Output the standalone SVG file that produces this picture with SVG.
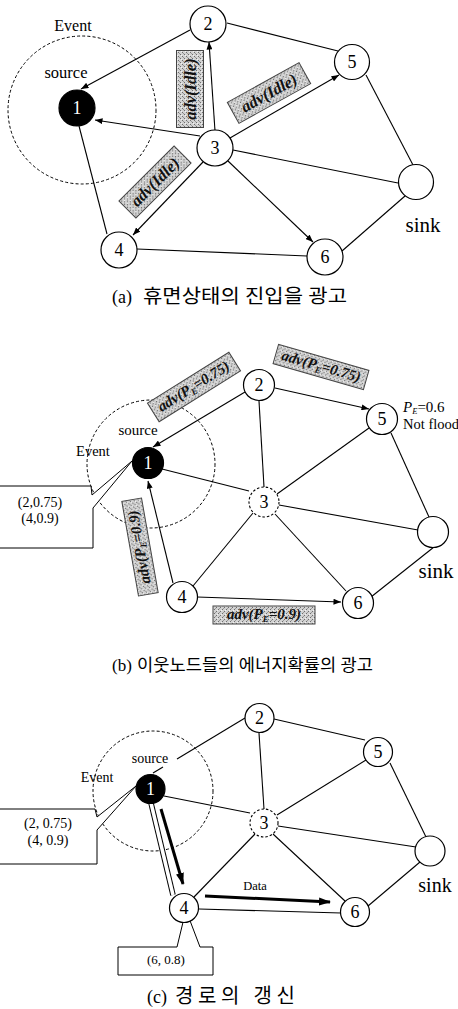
<svg xmlns="http://www.w3.org/2000/svg" width="458" height="1009" viewBox="0 0 458 1009">
<defs>
<style>
.e{stroke:#000;stroke-width:1.1;fill:none}
.ea{stroke:#000;stroke-width:1.1;fill:none;marker-end:url(#ah)}
.thick{stroke:#000;stroke-width:3;fill:none;marker-end:url(#aht)}
.nd{fill:#fff;stroke:#000;stroke-width:1.2}
.src{fill:#000;stroke:#000;stroke-width:1.2}
.dn{fill:#fff;stroke:#000;stroke-width:1.1;stroke-dasharray:2.5 2}
.ev{fill:none;stroke:#000;stroke-width:1;stroke-dasharray:3 2.2}
.num{font-family:"Liberation Serif","Times New Roman",serif;font-size:18px;text-anchor:middle;fill:#000}
.numw{fill:#fff}
.lbl{font-family:"Liberation Serif","Times New Roman",serif;fill:#000}
.mid{text-anchor:middle}
.box{fill:url(#dots);stroke:#444;stroke-width:1}
.bt{font-family:"Liberation Serif","Times New Roman",serif;font-weight:bold;font-style:italic;text-anchor:middle;fill:#111}
.call{fill:#fff;stroke:#000;stroke-width:1}
.cap{font-family:"Liberation Serif","Noto Sans CJK KR",serif;fill:#000}
</style>
<pattern id="dots" width="4" height="4" patternUnits="userSpaceOnUse">
<rect width="4" height="4" fill="#d2d2d2"/>
<rect x="0" y="0" width="1" height="1" fill="#6e6e6e"/>
<rect x="2" y="2" width="1" height="1" fill="#6e6e6e"/>
<rect x="3" y="1" width="1" height="1" fill="#9a9a9a"/>
<rect x="1" y="3" width="1" height="1" fill="#f2f2f2"/>
</pattern>
<marker id="ah" viewBox="0 0 10 8" refX="10" refY="4" markerWidth="8" markerHeight="6" markerUnits="userSpaceOnUse" orient="auto">
<path d="M0,0 L10,4 L0,8 z" fill="#000"/>
</marker>
<marker id="aht" viewBox="0 0 12 8" refX="11" refY="4" markerWidth="12" markerHeight="9" markerUnits="userSpaceOnUse" orient="auto">
<path d="M0,0 L12,4 L0,8 z" fill="#000"/>
</marker>
</defs>
<rect width="458" height="1009" fill="#fff"/>

<!-- (a) idle-state advertisement -->
<g id="panel-a">
<circle class="ev" cx="82" cy="110" r="74"/>
<g id="a-connectors">
<line class="ea" x1="190" y1="30" x2="81" y2="89"/>
<line class="e" x1="227" y1="23" x2="338" y2="51"/>
<line class="ea" x1="215" y1="131" x2="209" y2="42"/>
<line class="ea" x1="230" y1="138" x2="339" y2="75"/>
<line class="ea" x1="200" y1="136" x2="95" y2="120"/>
<line class="ea" x1="203" y1="162" x2="133" y2="235"/>
<line class="ea" x1="228" y1="161" x2="313" y2="242"/>
<line class="e" x1="233" y1="150" x2="398" y2="183"/>
<line class="e" x1="366" y1="75" x2="413" y2="165"/>
<line class="e" x1="79" y1="126" x2="107" y2="234"/>
<line class="e" x1="137" y1="249" x2="307" y2="256"/>
<line class="e" x1="342" y1="251" x2="405" y2="196"/>
<g transform="translate(190,89) rotate(-90)">
<rect class="box" x="-38.5" y="-13.5" width="77" height="27"/>
<text class="bt" font-size="16.5" y="5.5">adv(Idle)</text>
</g>
<g transform="translate(269,93) rotate(-29)">
<rect class="box" x="-41" y="-12" width="82" height="24"/>
<text class="bt" font-size="16.5" y="5.5">adv(Idle)</text>
</g>
<g transform="translate(155,182) rotate(-45)">
<rect class="box" x="-39" y="-12" width="78" height="24"/>
<text class="bt" font-size="16.5" y="5.5">adv(Idle)</text>
</g>
</g>
<g id="a-n1"><circle class="src" cx="77" cy="108" r="18"/><text class="num numw" x="77" y="114">1</text></g>
<g id="a-n2"><circle class="nd" cx="208" cy="24" r="18"/><text class="num" x="208" y="30">2</text></g>
<g id="a-n3"><circle class="nd" cx="215" cy="148" r="18"/><text class="num" x="215" y="154">3</text></g>
<g id="a-n4"><circle class="nd" cx="119" cy="250" r="18"/><text class="num" x="119" y="256">4</text></g>
<g id="a-n5"><circle class="nd" cx="352" cy="62" r="17.5"/><text class="num" x="352" y="68">5</text></g>
<g id="a-n6"><circle class="nd" cx="325" cy="257" r="18"/><text class="num" x="325" y="263">6</text></g>
<g id="a-sink"><circle class="nd" cx="416" cy="182" r="17.5"/></g>
<text class="lbl mid" x="73" y="31" font-size="16">Event</text>
<text class="lbl mid" x="66" y="78" font-size="16.5">source</text>
<text class="lbl mid" x="423" y="232" font-size="21">sink</text>
<text class="cap" x="112" y="303" font-size="18">(a)</text>
<text class="cap" x="143" y="303" font-size="19.5" textLength="204" lengthAdjust="spacingAndGlyphs">휴면상태의 진입을 광고</text>
</g>

<!-- (b) neighbours advertise energy probability -->
<g id="panel-b">
<circle class="ev" cx="151" cy="464" r="64"/>
<g id="b-connectors">
<line class="ea" x1="245" y1="392" x2="153" y2="447"/>
<line class="ea" x1="275" y1="388" x2="369" y2="409"/>
<line class="e" x1="259" y1="401" x2="264" y2="487"/>
<line class="e" x1="162" y1="469" x2="249" y2="491"/>
<line class="e" x1="277" y1="494" x2="369" y2="428"/>
<line class="e" x1="391" y1="433" x2="429" y2="517"/>
<line class="e" x1="279" y1="505" x2="418" y2="530"/>
<line class="e" x1="253" y1="513" x2="193" y2="586"/>
<line class="e" x1="275" y1="514" x2="346" y2="591"/>
<line class="ea" x1="173" y1="583" x2="148" y2="481"/>
<line class="ea" x1="197" y1="597" x2="341" y2="602"/>
<line class="e" x1="371" y1="597" x2="434" y2="547"/>
<g transform="translate(194,387) rotate(-32)">
<rect class="box" x="-48" y="-11" width="96" height="22"/>
<text class="bt" font-size="15" y="4">adv(P<tspan font-size="9" dy="3">E</tspan><tspan dy="-3">=0.75)</tspan></text>
</g>
<g transform="translate(321,367) rotate(16)">
<rect class="box" x="-47" y="-10" width="94" height="20"/>
<text class="bt" font-size="15" y="4">adv(P<tspan font-size="9" dy="3">E</tspan><tspan dy="-3">=0.75)</tspan></text>
</g>
<g transform="translate(140,547) rotate(-100)">
<rect class="box" x="-48" y="-10" width="96" height="20"/>
<text class="bt" font-size="15" y="4">adv(P<tspan font-size="9" dy="3">E</tspan><tspan dy="-3">=0.9)</tspan></text>
</g>
<g transform="translate(264,615)">
<rect class="box" x="-51" y="-9" width="102" height="18"/>
<text class="bt" font-size="15" y="4">adv(P<tspan font-size="9" dy="3">E</tspan><tspan dy="-3">=0.9)</tspan></text>
</g>
</g>
<g id="b-callout">
<polygon class="call" points="-2,486 91,486 92,495 132,461 93,508 93,548 -2,548"/>
<text class="lbl mid" x="40" y="507" font-size="14">(2,0.75)</text>
<text class="lbl mid" x="40" y="523" font-size="14">(4,0.9)</text>
</g>
<g id="b-n1"><circle class="src" cx="148" cy="463" r="15.5"/><text class="num numw" x="148" y="469">1</text></g>
<g id="b-n2"><circle class="nd" cx="259" cy="385" r="15.5"/><text class="num" x="259" y="391">2</text></g>
<g id="b-n3"><circle class="dn" cx="264" cy="502" r="15"/><text class="num" x="264" y="508">3</text></g>
<g id="b-n4"><circle class="nd" cx="182" cy="597" r="15.5"/><text class="num" x="182" y="603">4</text></g>
<g id="b-n5"><circle class="nd" cx="382" cy="419" r="15.5"/><text class="num" x="382" y="425">5</text></g>
<g id="b-n6"><circle class="nd" cx="358" cy="603" r="15.5"/><text class="num" x="358" y="609">6</text></g>
<g id="b-sink"><circle class="nd" cx="433" cy="532" r="15.5"/></g>
<text class="lbl mid" x="138" y="435" font-size="15">source</text>
<text class="lbl mid" x="93" y="456" font-size="14.5">Event</text>
<text class="lbl" x="403" y="412" font-size="15"><tspan font-style="italic">P</tspan><tspan font-style="italic" font-size="8.5" dy="2">E</tspan><tspan dy="-2">=0.6</tspan></text>
<text class="lbl" x="403" y="429" font-size="14.5">Not flood</text>
<text class="lbl mid" x="436" y="578" font-size="21">sink</text>
<text class="cap" x="112" y="671" font-size="17">(b)</text>
<text class="cap" x="137" y="671" font-size="16.8" textLength="236" lengthAdjust="spacingAndGlyphs">이웃노드들의 에너지확률의 광고</text>
</g>

<!-- (c) route update -->
<g id="panel-c">
<circle class="ev" cx="153" cy="791" r="60"/>
<g id="c-connectors">
<line class="e" x1="245" y1="718" x2="177" y2="759"/>
<line class="e" x1="163" y1="767" x2="153" y2="773"/>
<line class="e" x1="274" y1="719" x2="365" y2="740"/>
<line class="e" x1="259" y1="733" x2="264" y2="809"/>
<line class="e" x1="164" y1="796" x2="250" y2="813"/>
<line class="e" x1="277" y1="815" x2="366" y2="760"/>
<line class="e" x1="390" y1="763" x2="426" y2="837"/>
<line class="e" x1="278" y1="826" x2="416" y2="847"/>
<line class="e" x1="255" y1="834" x2="194" y2="897"/>
<line class="e" x1="273" y1="834" x2="345" y2="901"/>
<line class="e" x1="199" y1="909" x2="341" y2="913"/>
<line class="e" x1="368" y1="906" x2="420" y2="862"/>
<line x1="151" y1="803" x2="173" y2="895" stroke="#000" stroke-width="5.5"/>
<line x1="151" y1="803" x2="173" y2="895" stroke="#fff" stroke-width="3.5"/>
<line class="thick" x1="161" y1="809" x2="183" y2="884"/>
<line class="thick" x1="205" y1="896" x2="330" y2="902"/>
<text class="lbl mid" x="255" y="890" font-size="12.5">Data</text>
</g>
<g id="c-callout1">
<polygon class="call" points="-2,809 95,809 97,817 136,786 97,830 97,864 -2,864"/>
<text class="lbl mid" x="48" y="828" font-size="14">(2, 0.75)</text>
<text class="lbl mid" x="48" y="845" font-size="14">(4, 0.9)</text>
</g>
<g id="c-callout2">
<path class="call" d="M118,947 H177 L184,918 L189,918 L200,947 H213 V975 H118 Z"/>
<text class="lbl mid" x="166" y="964" font-size="13">(6, 0.8)</text>
</g>
<g id="c-n1"><circle class="src" cx="150.5" cy="789" r="14.5"/><text class="num numw" x="150.5" y="795">1</text></g>
<g id="c-n2"><circle class="nd" cx="259.5" cy="718" r="14.5"/><text class="num" x="259.5" y="724">2</text></g>
<g id="c-n3"><circle class="dn" cx="264" cy="823" r="14"/><text class="num" x="264" y="829">3</text></g>
<g id="c-n4"><circle class="nd" cx="184" cy="908" r="14.5"/><text class="num" x="184" y="914">4</text></g>
<g id="c-n5"><circle class="nd" cx="378" cy="752" r="14.5"/><text class="num" x="378" y="758">5</text></g>
<g id="c-n6"><circle class="nd" cx="355" cy="912" r="14.5"/><text class="num" x="355" y="918">6</text></g>
<g id="c-sink"><circle class="nd" cx="430" cy="851" r="15"/></g>
<text class="lbl mid" x="150" y="763" font-size="14">source</text>
<text class="lbl mid" x="97" y="782" font-size="14">Event</text>
<text class="lbl mid" x="435" y="892" font-size="20">sink</text>
<text class="cap" x="147" y="1003" font-size="18">(c)</text>
<text class="cap" x="175" y="1003" font-size="20" textLength="120" lengthAdjust="spacing">경로의 갱신</text>
</g>
</svg>
